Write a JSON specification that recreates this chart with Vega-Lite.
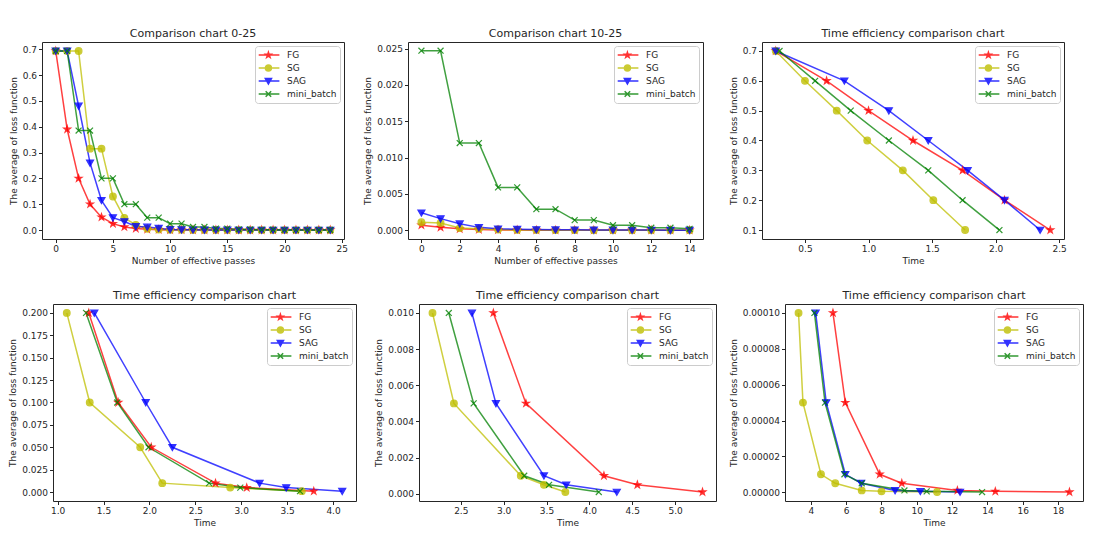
{
  "$schema": "https://vega.github.io/schema/vega-lite/v6.json",
  "padding": {"left": 8, "top": 27, "right": 5, "bottom": 5},
  "config": {
    "font": "DejaVu Sans",
    "view": {"stroke": "#262626", "strokeWidth": 1},
    "axis": {"grid": false, "domain": false, "tickColor": "#262626", "tickSize": 3.5, "labelFontSize": 9, "labelColor": "#262626", "labelPadding": 2, "titleFontSize": 9, "titleFontWeight": "normal", "titleColor": "#262626", "labelFont": "DejaVu Sans", "titleFont": "DejaVu Sans", "labelFlush": false, "labelOverlap": false, "labelBound": false},
    "axisY": {"titlePadding": 4},
    "axisX": {"titlePadding": 3},
    "title": {"fontSize": 11, "fontWeight": "normal", "color": "#262626", "offset": 3, "font": "DejaVu Sans"},
    "legend": {"orient": "top-right", "offset": 4, "title": null, "padding": 3, "symbolSize": 100, "labelOffset": 17, "rowPadding": 1, "labelFont": "DejaVu Sans", "labelFontSize": 9, "labelColor": "#262626", "strokeColor": "#cccccc", "fillColor": "rgba(255,255,255,0.8)", "cornerRadius": 3, "symbolStrokeWidth": 1.5, "symbolOpacity": 0.8}
  },
  "datasets": {
    "p1": [
      {"s":"FG","x":0,"y":0.693},{"s":"FG","x":1,"y":0.39},{"s":"FG","x":2,"y":0.2},{"s":"FG","x":3,"y":0.1},{"s":"FG","x":4,"y":0.05},{"s":"FG","x":5,"y":0.025},{"s":"FG","x":6,"y":0.012},{"s":"FG","x":7,"y":0.006},{"s":"FG","x":8,"y":0.003},{"s":"FG","x":9,"y":0.0015},{"s":"FG","x":10,"y":0.0007},{"s":"FG","x":11,"y":0.0004},{"s":"FG","x":12,"y":0.0002},{"s":"FG","x":13,"y":0.0001},{"s":"FG","x":14,"y":0.00005},{"s":"FG","x":15,"y":0.00003},{"s":"FG","x":16,"y":0.00002},{"s":"FG","x":17,"y":0.00001},{"s":"FG","x":18,"y":0.00001},{"s":"FG","x":19,"y":0.00001},{"s":"FG","x":20,"y":0.00001},{"s":"FG","x":21,"y":0.00001},{"s":"FG","x":22,"y":0.00001},{"s":"FG","x":23,"y":0.00001},{"s":"FG","x":24,"y":0.00001},
      {"s":"SG","x":0,"y":0.693},{"s":"SG","x":1,"y":0.693},{"s":"SG","x":2,"y":0.693},{"s":"SG","x":3,"y":0.315},{"s":"SG","x":4,"y":0.315},{"s":"SG","x":5,"y":0.13},{"s":"SG","x":6,"y":0.047},{"s":"SG","x":7,"y":0.02},{"s":"SG","x":8,"y":0.005},{"s":"SG","x":9,"y":0.002},{"s":"SG","x":10,"y":0.0011},{"s":"SG","x":11,"y":0.001},{"s":"SG","x":12,"y":0.0003},{"s":"SG","x":13,"y":0.0002},{"s":"SG","x":14,"y":0.0001},{"s":"SG","x":15,"y":0.00005},{"s":"SG","x":16,"y":0.00003},{"s":"SG","x":17,"y":0.00002},{"s":"SG","x":18,"y":0.00002},{"s":"SG","x":19,"y":0.00001},{"s":"SG","x":20,"y":0.00001},{"s":"SG","x":21,"y":0.00001},{"s":"SG","x":22,"y":0.00001},{"s":"SG","x":23,"y":0.00001},{"s":"SG","x":24,"y":0.00001},
      {"s":"SAG","x":0,"y":0.693},{"s":"SAG","x":1,"y":0.693},{"s":"SAG","x":2,"y":0.48},{"s":"SAG","x":3,"y":0.26},{"s":"SAG","x":4,"y":0.115},{"s":"SAG","x":5,"y":0.048},{"s":"SAG","x":6,"y":0.033},{"s":"SAG","x":7,"y":0.014},{"s":"SAG","x":8,"y":0.012},{"s":"SAG","x":9,"y":0.007},{"s":"SAG","x":10,"y":0.0024},{"s":"SAG","x":11,"y":0.0016},{"s":"SAG","x":12,"y":0.0009},{"s":"SAG","x":13,"y":0.0004},{"s":"SAG","x":14,"y":0.0002},{"s":"SAG","x":15,"y":0.00015},{"s":"SAG","x":16,"y":0.0001},{"s":"SAG","x":17,"y":0.00008},{"s":"SAG","x":18,"y":0.00006},{"s":"SAG","x":19,"y":0.00005},{"s":"SAG","x":20,"y":0.00004},{"s":"SAG","x":21,"y":0.00003},{"s":"SAG","x":22,"y":0.00003},{"s":"SAG","x":23,"y":0.00002},{"s":"SAG","x":24,"y":0.00002},
      {"s":"mini_batch","x":0,"y":0.693},{"s":"mini_batch","x":1,"y":0.693},{"s":"mini_batch","x":2,"y":0.385},{"s":"mini_batch","x":3,"y":0.385},{"s":"mini_batch","x":4,"y":0.2},{"s":"mini_batch","x":5,"y":0.2},{"s":"mini_batch","x":6,"y":0.1},{"s":"mini_batch","x":7,"y":0.1},{"s":"mini_batch","x":8,"y":0.048},{"s":"mini_batch","x":9,"y":0.048},{"s":"mini_batch","x":10,"y":0.0247},{"s":"mini_batch","x":11,"y":0.0247},{"s":"mini_batch","x":12,"y":0.012},{"s":"mini_batch","x":13,"y":0.012},{"s":"mini_batch","x":14,"y":0.0059},{"s":"mini_batch","x":15,"y":0.0059},{"s":"mini_batch","x":16,"y":0.0029},{"s":"mini_batch","x":17,"y":0.0029},{"s":"mini_batch","x":18,"y":0.0014},{"s":"mini_batch","x":19,"y":0.0014},{"s":"mini_batch","x":20,"y":0.0007},{"s":"mini_batch","x":21,"y":0.0007},{"s":"mini_batch","x":22,"y":0.00035},{"s":"mini_batch","x":23,"y":0.00035},{"s":"mini_batch","x":24,"y":0.0002}
    ],
    "p2": [
      {"s":"FG","x":0,"y":0.0007},{"s":"FG","x":1,"y":0.0004},{"s":"FG","x":2,"y":0.0002},{"s":"FG","x":3,"y":0.0001},{"s":"FG","x":4,"y":0.00005},{"s":"FG","x":5,"y":0.00003},{"s":"FG","x":6,"y":0.00002},{"s":"FG","x":7,"y":0.00001},{"s":"FG","x":8,"y":0.00001},{"s":"FG","x":9,"y":0.00001},{"s":"FG","x":10,"y":0.00001},{"s":"FG","x":11,"y":0.00001},{"s":"FG","x":12,"y":0.00001},{"s":"FG","x":13,"y":0.00001},{"s":"FG","x":14,"y":0.00001},
      {"s":"SG","x":0,"y":0.0011},{"s":"SG","x":1,"y":0.001},{"s":"SG","x":2,"y":0.0003},{"s":"SG","x":3,"y":0.0002},{"s":"SG","x":4,"y":0.0001},{"s":"SG","x":5,"y":0.00005},{"s":"SG","x":6,"y":0.00003},{"s":"SG","x":7,"y":0.00002},{"s":"SG","x":8,"y":0.00002},{"s":"SG","x":9,"y":0.00001},{"s":"SG","x":10,"y":0.00001},{"s":"SG","x":11,"y":0.00001},{"s":"SG","x":12,"y":0.00001},{"s":"SG","x":13,"y":0.00001},{"s":"SG","x":14,"y":0.00001},
      {"s":"SAG","x":0,"y":0.0024},{"s":"SAG","x":1,"y":0.0016},{"s":"SAG","x":2,"y":0.0009},{"s":"SAG","x":3,"y":0.0004},{"s":"SAG","x":4,"y":0.0002},{"s":"SAG","x":5,"y":0.00015},{"s":"SAG","x":6,"y":0.0001},{"s":"SAG","x":7,"y":0.00008},{"s":"SAG","x":8,"y":0.00006},{"s":"SAG","x":9,"y":0.00005},{"s":"SAG","x":10,"y":0.00004},{"s":"SAG","x":11,"y":0.00003},{"s":"SAG","x":12,"y":0.00003},{"s":"SAG","x":13,"y":0.00002},{"s":"SAG","x":14,"y":0.00002},
      {"s":"mini_batch","x":0,"y":0.0247},{"s":"mini_batch","x":1,"y":0.0247},{"s":"mini_batch","x":2,"y":0.012},{"s":"mini_batch","x":3,"y":0.012},{"s":"mini_batch","x":4,"y":0.0059},{"s":"mini_batch","x":5,"y":0.0059},{"s":"mini_batch","x":6,"y":0.0029},{"s":"mini_batch","x":7,"y":0.0029},{"s":"mini_batch","x":8,"y":0.0014},{"s":"mini_batch","x":9,"y":0.0014},{"s":"mini_batch","x":10,"y":0.0007},{"s":"mini_batch","x":11,"y":0.0007},{"s":"mini_batch","x":12,"y":0.00035},{"s":"mini_batch","x":13,"y":0.00035},{"s":"mini_batch","x":14,"y":0.0002}
    ],
    "p3": [
      {"s":"FG","x":0.27,"y":0.7},{"s":"FG","x":0.67,"y":0.6},{"s":"FG","x":1.0,"y":0.5},{"s":"FG","x":1.35,"y":0.4},{"s":"FG","x":1.74,"y":0.3},{"s":"FG","x":2.07,"y":0.2},{"s":"FG","x":2.43,"y":0.1},
      {"s":"SG","x":0.27,"y":0.7},{"s":"SG","x":0.5,"y":0.6},{"s":"SG","x":0.75,"y":0.5},{"s":"SG","x":0.99,"y":0.4},{"s":"SG","x":1.27,"y":0.3},{"s":"SG","x":1.51,"y":0.2},{"s":"SG","x":1.76,"y":0.1},
      {"s":"SAG","x":0.27,"y":0.7},{"s":"SAG","x":0.81,"y":0.6},{"s":"SAG","x":1.16,"y":0.5},{"s":"SAG","x":1.47,"y":0.4},{"s":"SAG","x":1.78,"y":0.3},{"s":"SAG","x":2.07,"y":0.2},{"s":"SAG","x":2.35,"y":0.1},
      {"s":"mini_batch","x":0.3,"y":0.7},{"s":"mini_batch","x":0.58,"y":0.6},{"s":"mini_batch","x":0.86,"y":0.5},{"s":"mini_batch","x":1.16,"y":0.4},{"s":"mini_batch","x":1.47,"y":0.3},{"s":"mini_batch","x":1.74,"y":0.2},{"s":"mini_batch","x":2.03,"y":0.1}
    ],
    "p4": [
      {"s":"FG","x":1.34,"y":0.2},{"s":"FG","x":1.66,"y":0.1},{"s":"FG","x":2.02,"y":0.05},{"s":"FG","x":2.72,"y":0.01},{"s":"FG","x":3.06,"y":0.005},{"s":"FG","x":3.79,"y":0.001},
      {"s":"SG","x":1.1,"y":0.2},{"s":"SG","x":1.35,"y":0.1},{"s":"SG","x":1.9,"y":0.05},{"s":"SG","x":2.14,"y":0.01},{"s":"SG","x":2.88,"y":0.005},{"s":"SG","x":3.66,"y":0.001},
      {"s":"SAG","x":1.4,"y":0.2},{"s":"SAG","x":1.96,"y":0.1},{"s":"SAG","x":2.25,"y":0.05},{"s":"SAG","x":3.2,"y":0.01},{"s":"SAG","x":3.49,"y":0.005},{"s":"SAG","x":4.1,"y":0.001},
      {"s":"mini_batch","x":1.31,"y":0.2},{"s":"mini_batch","x":1.65,"y":0.1},{"s":"mini_batch","x":1.99,"y":0.05},{"s":"mini_batch","x":2.65,"y":0.01},{"s":"mini_batch","x":2.99,"y":0.005},{"s":"mini_batch","x":3.64,"y":0.001}
    ],
    "p5": [
      {"s":"FG","x":2.88,"y":0.01},{"s":"FG","x":3.26,"y":0.005},{"s":"FG","x":4.17,"y":0.001},{"s":"FG","x":4.56,"y":0.0005},{"s":"FG","x":5.32,"y":0.0001},
      {"s":"SG","x":2.17,"y":0.01},{"s":"SG","x":2.42,"y":0.005},{"s":"SG","x":3.2,"y":0.001},{"s":"SG","x":3.47,"y":0.0005},{"s":"SG","x":3.72,"y":0.0001},
      {"s":"SAG","x":2.63,"y":0.01},{"s":"SAG","x":2.91,"y":0.005},{"s":"SAG","x":3.47,"y":0.001},{"s":"SAG","x":3.73,"y":0.0005},{"s":"SAG","x":4.32,"y":0.0001},
      {"s":"mini_batch","x":2.36,"y":0.01},{"s":"mini_batch","x":2.65,"y":0.005},{"s":"mini_batch","x":3.24,"y":0.001},{"s":"mini_batch","x":3.53,"y":0.0005},{"s":"mini_batch","x":4.11,"y":0.0001}
    ],
    "p6": [
      {"s":"FG","x":5.25,"y":0.0001},{"s":"FG","x":5.95,"y":0.00005},{"s":"FG","x":7.9,"y":0.00001},{"s":"FG","x":9.15,"y":0.000005},{"s":"FG","x":12.3,"y":0.000001},{"s":"FG","x":14.45,"y":0.0000005},{"s":"FG","x":18.65,"y":0.0000001},
      {"s":"SG","x":3.3,"y":0.0001},{"s":"SG","x":3.55,"y":0.00005},{"s":"SG","x":4.57,"y":0.00001},{"s":"SG","x":5.38,"y":0.000005},{"s":"SG","x":6.88,"y":0.000001},{"s":"SG","x":8.0,"y":0.0000005},{"s":"SG","x":11.15,"y":0.0000001},
      {"s":"SAG","x":4.27,"y":0.0001},{"s":"SAG","x":4.87,"y":0.00005},{"s":"SAG","x":5.95,"y":0.00001},{"s":"SAG","x":6.85,"y":0.000005},{"s":"SAG","x":8.77,"y":0.000001},{"s":"SAG","x":10.2,"y":0.0000005},{"s":"SAG","x":12.45,"y":0.0000001},
      {"s":"mini_batch","x":4.2,"y":0.0001},{"s":"mini_batch","x":4.8,"y":0.00005},{"s":"mini_batch","x":5.9,"y":0.00001},{"s":"mini_batch","x":6.88,"y":0.000005},{"s":"mini_batch","x":9.3,"y":0.000001},{"s":"mini_batch","x":10.56,"y":0.0000005},{"s":"mini_batch","x":13.7,"y":0.0000001}
    ]
  },
  "resolve": {"scale": {"color": "independent", "shape": "independent", "stroke": "independent"}, "legend": {"color": "independent", "shape": "independent", "stroke": "independent"}},
  "spacing": 23,
  "columns": 1,
  "concat": [
    {
      "resolve": {"scale": {"color": "independent", "shape": "independent", "stroke": "independent"}, "legend": {"color": "independent", "shape": "independent", "stroke": "independent"}},
      "spacing": 24,
      "hconcat": [
        {
          "resolve": {"scale": {"color": "independent", "shape": "independent", "stroke": "independent"}, "legend": {"color": "independent", "shape": "independent", "stroke": "independent"}},
          "spacing": 15,
          "hconcat": [
            {
              "title": "Comparison chart 0-25",
              "width": 302, "height": 197,
              "data": {"name": "p1"},
              "encoding": {
                "x": {"field": "x", "type": "quantitative", "scale": {"domain": [-1.2, 25.2], "nice": false, "zero": false}, "axis": {"title": "Number of effective passes", "values": [0,5,10,15,20,25], "format": "d"}},
                "y": {"field": "y", "type": "quantitative", "scale": {"domain": [-0.0346, 0.7277], "nice": false, "zero": false}, "axis": {"title": "The average of loss function", "values": [0,0.1,0.2,0.3,0.4,0.5,0.6,0.7], "format": ".1f"}},
                "color": {"field": "s", "type": "nominal", "scale": {"domain": ["FG","SG","SAG","mini_batch"], "range": ["#ff0000","#bfbf00","#0000ff","#008000"]}, "legend": {}}
              },
              "layer": [
                {"mark": {"type": "point", "filled": true, "size": 0, "strokeWidth": 1.5},
                 "encoding": {
                   "shape": {"field": "s", "type": "nominal", "scale": {"domain": ["FG","SG","SAG","mini_batch"], "range": ["M-1.06,0L3.08,0M0.88,-0.55L1.004,-0.17L1.403,-0.17L1.08,0.065L1.203,0.445L0.88,0.21L0.557,0.445L0.68,0.065L0.357,-0.17L0.756,-0.17Z","M-1.06,0L3.08,0M0.28,0A0.6,0.6 0 1,0 1.48,0A0.6,0.6 0 1,0 0.28,0Z","M-1.06,0L3.08,0M0.26,-0.5L1.5,-0.5L0.88,0.6Z","M-1.06,0L3.08,0M0.33,-0.55L1.43,0.55M0.33,0.55L1.43,-0.55"]}, "legend": null},
                   "stroke": {"field": "s", "type": "nominal", "scale": {"domain": ["FG","SG","SAG","mini_batch"], "range": ["#ff0000","#bfbf00","#0000ff","#008000"]}, "legend": null}
                 }},
                {"mark": {"type": "line", "strokeWidth": 1.5, "opacity": 0.75}},
                {"mark": {"type": "point", "filled": true, "size": 49, "opacity": 0.8, "strokeWidth": 1.2,
                  "shape": {"expr": "datum.s==='FG'?'M0,-1L0.225,-0.309L0.951,-0.309L0.363,0.118L0.588,0.809L0,0.382L-0.588,0.809L-0.363,0.118L-0.951,-0.309L-0.225,-0.309Z':datum.s==='SG'?'M-0.95,0A0.95,0.95 0 1,0 0.95,0A0.95,0.95 0 1,0 -0.95,0Z':datum.s==='SAG'?'M-1,-0.8L1,-0.8L0,0.95Z':'M-0.85,-0.85L0.85,0.85M-0.85,0.85L0.85,-0.85'"},
                  "stroke": {"expr": "datum.s==='FG'?'#ff0000':datum.s==='SG'?'#bfbf00':datum.s==='SAG'?'#0000ff':'#008000'"}}}
              ]
            },
            {
              "title": "Comparison chart 10-25",
              "width": 295, "height": 197,
              "data": {"name": "p2"},
              "encoding": {
                "x": {"field": "x", "type": "quantitative", "scale": {"domain": [-0.7, 14.7], "nice": false, "zero": false}, "axis": {"title": "Number of effective passes", "values": [0,2,4,6,8,10,12,14], "format": "d"}},
                "y": {"field": "y", "type": "quantitative", "scale": {"domain": [-0.0012, 0.0259], "nice": false, "zero": false}, "axis": {"title": "The average of loss function", "values": [0,0.005,0.01,0.015,0.02,0.025], "format": ".3f"}},
                "color": {"field": "s", "type": "nominal", "scale": {"domain": ["FG","SG","SAG","mini_batch"], "range": ["#ff0000","#bfbf00","#0000ff","#008000"]}, "legend": {}}
              },
              "layer": [
                {"mark": {"type": "point", "filled": true, "size": 0, "strokeWidth": 1.5},
                 "encoding": {
                   "shape": {"field": "s", "type": "nominal", "scale": {"domain": ["FG","SG","SAG","mini_batch"], "range": ["M-1.06,0L3.08,0M0.88,-0.55L1.004,-0.17L1.403,-0.17L1.08,0.065L1.203,0.445L0.88,0.21L0.557,0.445L0.68,0.065L0.357,-0.17L0.756,-0.17Z","M-1.06,0L3.08,0M0.28,0A0.6,0.6 0 1,0 1.48,0A0.6,0.6 0 1,0 0.28,0Z","M-1.06,0L3.08,0M0.26,-0.5L1.5,-0.5L0.88,0.6Z","M-1.06,0L3.08,0M0.33,-0.55L1.43,0.55M0.33,0.55L1.43,-0.55"]}, "legend": null},
                   "stroke": {"field": "s", "type": "nominal", "scale": {"domain": ["FG","SG","SAG","mini_batch"], "range": ["#ff0000","#bfbf00","#0000ff","#008000"]}, "legend": null}
                 }},
                {"mark": {"type": "line", "strokeWidth": 1.5, "opacity": 0.75}},
                {"mark": {"type": "point", "filled": true, "size": 49, "opacity": 0.8, "strokeWidth": 1.2,
                  "shape": {"expr": "datum.s==='FG'?'M0,-1L0.225,-0.309L0.951,-0.309L0.363,0.118L0.588,0.809L0,0.382L-0.588,0.809L-0.363,0.118L-0.951,-0.309L-0.225,-0.309Z':datum.s==='SG'?'M-0.95,0A0.95,0.95 0 1,0 0.95,0A0.95,0.95 0 1,0 -0.95,0Z':datum.s==='SAG'?'M-1,-0.8L1,-0.8L0,0.95Z':'M-0.85,-0.85L0.85,0.85M-0.85,0.85L0.85,-0.85'"},
                  "stroke": {"expr": "datum.s==='FG'?'#ff0000':datum.s==='SG'?'#bfbf00':datum.s==='SAG'?'#0000ff':'#008000'"}}}
              ]
            }
          ]
        },
        {
          "title": "Time efficiency comparison chart",
          "width": 302, "height": 197,
          "data": {"name": "p3"},
          "encoding": {
            "x": {"field": "x", "type": "quantitative", "scale": {"domain": [0.162, 2.538], "nice": false, "zero": false}, "axis": {"title": "Time", "values": [0.5,1.0,1.5,2.0,2.5], "format": ".1f"}},
            "y": {"field": "y", "type": "quantitative", "scale": {"domain": [0.07, 0.73], "nice": false, "zero": false}, "axis": {"title": "The average of loss function", "values": [0.1,0.2,0.3,0.4,0.5,0.6,0.7], "format": ".1f"}},
            "color": {"field": "s", "type": "nominal", "scale": {"domain": ["FG","SG","SAG","mini_batch"], "range": ["#ff0000","#bfbf00","#0000ff","#008000"]}, "legend": {}}
          },
          "layer": [
            {"mark": {"type": "point", "filled": true, "size": 0, "strokeWidth": 1.5},
             "encoding": {
               "shape": {"field": "s", "type": "nominal", "scale": {"domain": ["FG","SG","SAG","mini_batch"], "range": ["M-1.06,0L3.08,0M0.88,-0.55L1.004,-0.17L1.403,-0.17L1.08,0.065L1.203,0.445L0.88,0.21L0.557,0.445L0.68,0.065L0.357,-0.17L0.756,-0.17Z","M-1.06,0L3.08,0M0.28,0A0.6,0.6 0 1,0 1.48,0A0.6,0.6 0 1,0 0.28,0Z","M-1.06,0L3.08,0M0.26,-0.5L1.5,-0.5L0.88,0.6Z","M-1.06,0L3.08,0M0.33,-0.55L1.43,0.55M0.33,0.55L1.43,-0.55"]}, "legend": null},
               "stroke": {"field": "s", "type": "nominal", "scale": {"domain": ["FG","SG","SAG","mini_batch"], "range": ["#ff0000","#bfbf00","#0000ff","#008000"]}, "legend": null}
             }},
            {"mark": {"type": "line", "strokeWidth": 1.5, "opacity": 0.75}},
            {"mark": {"type": "point", "filled": true, "size": 49, "opacity": 0.8, "strokeWidth": 1.2,
              "shape": {"expr": "datum.s==='FG'?'M0,-1L0.225,-0.309L0.951,-0.309L0.363,0.118L0.588,0.809L0,0.382L-0.588,0.809L-0.363,0.118L-0.951,-0.309L-0.225,-0.309Z':datum.s==='SG'?'M-0.95,0A0.95,0.95 0 1,0 0.95,0A0.95,0.95 0 1,0 -0.95,0Z':datum.s==='SAG'?'M-1,-0.8L1,-0.8L0,0.95Z':'M-0.85,-0.85L0.85,0.85M-0.85,0.85L0.85,-0.85'"},
              "stroke": {"expr": "datum.s==='FG'?'#ff0000':datum.s==='SG'?'#bfbf00':datum.s==='SAG'?'#0000ff':'#008000'"}}}
          ]
        }
      ]
    },
    {
      "resolve": {"scale": {"color": "independent", "shape": "independent", "stroke": "independent"}, "legend": {"color": "independent", "shape": "independent", "stroke": "independent"}},
      "bounds": "flush",
      "spacing": 0,
      "hconcat": [
        {"width": 11, "height": 10, "view": {"stroke": null}, "data": {"values": []}, "mark": {"type": "point", "opacity": 0}, "encoding": {}},
        {
          "resolve": {"scale": {"color": "independent", "shape": "independent", "stroke": "independent"}, "legend": {"color": "independent", "shape": "independent", "stroke": "independent"}},
          "spacing": 11,
          "hconcat": [
            {
              "resolve": {"scale": {"color": "independent", "shape": "independent", "stroke": "independent"}, "legend": {"color": "independent", "shape": "independent", "stroke": "independent"}},
              "spacing": 17,
              "hconcat": [
                {
                  "title": "Time efficiency comparison chart",
                  "width": 303, "height": 197,
                  "data": {"name": "p4"},
                  "encoding": {
                    "x": {"field": "x", "type": "quantitative", "scale": {"domain": [0.95, 4.25], "nice": false, "zero": false}, "axis": {"title": "Time", "values": [1.0,1.5,2.0,2.5,3.0,3.5,4.0], "format": ".1f"}},
                    "y": {"field": "y", "type": "quantitative", "scale": {"domain": [-0.00995, 0.20995], "nice": false, "zero": false}, "axis": {"title": "The average of loss function", "values": [0,0.025,0.05,0.075,0.1,0.125,0.15,0.175,0.2], "format": ".3f"}},
                    "color": {"field": "s", "type": "nominal", "scale": {"domain": ["FG","SG","SAG","mini_batch"], "range": ["#ff0000","#bfbf00","#0000ff","#008000"]}, "legend": {}}
                  },
                  "layer": [
                    {"mark": {"type": "point", "filled": true, "size": 0, "strokeWidth": 1.5},
                     "encoding": {
                       "shape": {"field": "s", "type": "nominal", "scale": {"domain": ["FG","SG","SAG","mini_batch"], "range": ["M-1.06,0L3.08,0M0.88,-0.55L1.004,-0.17L1.403,-0.17L1.08,0.065L1.203,0.445L0.88,0.21L0.557,0.445L0.68,0.065L0.357,-0.17L0.756,-0.17Z","M-1.06,0L3.08,0M0.28,0A0.6,0.6 0 1,0 1.48,0A0.6,0.6 0 1,0 0.28,0Z","M-1.06,0L3.08,0M0.26,-0.5L1.5,-0.5L0.88,0.6Z","M-1.06,0L3.08,0M0.33,-0.55L1.43,0.55M0.33,0.55L1.43,-0.55"]}, "legend": null},
                       "stroke": {"field": "s", "type": "nominal", "scale": {"domain": ["FG","SG","SAG","mini_batch"], "range": ["#ff0000","#bfbf00","#0000ff","#008000"]}, "legend": null}
                     }},
                    {"mark": {"type": "line", "strokeWidth": 1.5, "opacity": 0.75}},
                    {"mark": {"type": "point", "filled": true, "size": 49, "opacity": 0.8, "strokeWidth": 1.2,
                      "shape": {"expr": "datum.s==='FG'?'M0,-1L0.225,-0.309L0.951,-0.309L0.363,0.118L0.588,0.809L0,0.382L-0.588,0.809L-0.363,0.118L-0.951,-0.309L-0.225,-0.309Z':datum.s==='SG'?'M-0.95,0A0.95,0.95 0 1,0 0.95,0A0.95,0.95 0 1,0 -0.95,0Z':datum.s==='SAG'?'M-1,-0.8L1,-0.8L0,0.95Z':'M-0.85,-0.85L0.85,0.85M-0.85,0.85L0.85,-0.85'"},
                      "stroke": {"expr": "datum.s==='FG'?'#ff0000':datum.s==='SG'?'#bfbf00':datum.s==='SAG'?'#0000ff':'#008000'"}}}
                  ]
                },
                {
                  "title": "Time efficiency comparison chart",
                  "width": 297, "height": 197,
                  "data": {"name": "p5"},
                  "encoding": {
                    "x": {"field": "x", "type": "quantitative", "scale": {"domain": [2.0125, 5.4775], "nice": false, "zero": false}, "axis": {"title": "Time", "values": [2.5,3.0,3.5,4.0,4.5,5.0], "format": ".1f"}},
                    "y": {"field": "y", "type": "quantitative", "scale": {"domain": [-0.000395, 0.010495], "nice": false, "zero": false}, "axis": {"title": "The average of loss function", "values": [0,0.002,0.004,0.006,0.008,0.01], "format": ".3f"}},
                    "color": {"field": "s", "type": "nominal", "scale": {"domain": ["FG","SG","SAG","mini_batch"], "range": ["#ff0000","#bfbf00","#0000ff","#008000"]}, "legend": {}}
                  },
                  "layer": [
                    {"mark": {"type": "point", "filled": true, "size": 0, "strokeWidth": 1.5},
                     "encoding": {
                       "shape": {"field": "s", "type": "nominal", "scale": {"domain": ["FG","SG","SAG","mini_batch"], "range": ["M-1.06,0L3.08,0M0.88,-0.55L1.004,-0.17L1.403,-0.17L1.08,0.065L1.203,0.445L0.88,0.21L0.557,0.445L0.68,0.065L0.357,-0.17L0.756,-0.17Z","M-1.06,0L3.08,0M0.28,0A0.6,0.6 0 1,0 1.48,0A0.6,0.6 0 1,0 0.28,0Z","M-1.06,0L3.08,0M0.26,-0.5L1.5,-0.5L0.88,0.6Z","M-1.06,0L3.08,0M0.33,-0.55L1.43,0.55M0.33,0.55L1.43,-0.55"]}, "legend": null},
                       "stroke": {"field": "s", "type": "nominal", "scale": {"domain": ["FG","SG","SAG","mini_batch"], "range": ["#ff0000","#bfbf00","#0000ff","#008000"]}, "legend": null}
                     }},
                    {"mark": {"type": "line", "strokeWidth": 1.5, "opacity": 0.75}},
                    {"mark": {"type": "point", "filled": true, "size": 49, "opacity": 0.8, "strokeWidth": 1.2,
                      "shape": {"expr": "datum.s==='FG'?'M0,-1L0.225,-0.309L0.951,-0.309L0.363,0.118L0.588,0.809L0,0.382L-0.588,0.809L-0.363,0.118L-0.951,-0.309L-0.225,-0.309Z':datum.s==='SG'?'M-0.95,0A0.95,0.95 0 1,0 0.95,0A0.95,0.95 0 1,0 -0.95,0Z':datum.s==='SAG'?'M-1,-0.8L1,-0.8L0,0.95Z':'M-0.85,-0.85L0.85,0.85M-0.85,0.85L0.85,-0.85'"},
                      "stroke": {"expr": "datum.s==='FG'?'#ff0000':datum.s==='SG'?'#bfbf00':datum.s==='SAG'?'#0000ff':'#008000'"}}}
                  ]
                }
              ]
            },
            {
              "title": "Time efficiency comparison chart",
              "width": 298, "height": 197,
              "data": {"name": "p6"},
              "encoding": {
                "x": {"field": "x", "type": "quantitative", "scale": {"domain": [2.5325, 19.4175], "nice": false, "zero": false}, "axis": {"title": "Time", "values": [4,6,8,10,12,14,16,18], "format": "d"}},
                "y": {"field": "y", "type": "quantitative", "scale": {"domain": [-0.000004895, 0.000104995], "nice": false, "zero": false}, "axis": {"title": "The average of loss function", "values": [0,0.00002,0.00004,0.00006,0.00008,0.0001], "format": ".5f"}},
                "color": {"field": "s", "type": "nominal", "scale": {"domain": ["FG","SG","SAG","mini_batch"], "range": ["#ff0000","#bfbf00","#0000ff","#008000"]}, "legend": {}}
              },
              "layer": [
                {"mark": {"type": "point", "filled": true, "size": 0, "strokeWidth": 1.5},
                 "encoding": {
                   "shape": {"field": "s", "type": "nominal", "scale": {"domain": ["FG","SG","SAG","mini_batch"], "range": ["M-1.06,0L3.08,0M0.88,-0.55L1.004,-0.17L1.403,-0.17L1.08,0.065L1.203,0.445L0.88,0.21L0.557,0.445L0.68,0.065L0.357,-0.17L0.756,-0.17Z","M-1.06,0L3.08,0M0.28,0A0.6,0.6 0 1,0 1.48,0A0.6,0.6 0 1,0 0.28,0Z","M-1.06,0L3.08,0M0.26,-0.5L1.5,-0.5L0.88,0.6Z","M-1.06,0L3.08,0M0.33,-0.55L1.43,0.55M0.33,0.55L1.43,-0.55"]}, "legend": null},
                   "stroke": {"field": "s", "type": "nominal", "scale": {"domain": ["FG","SG","SAG","mini_batch"], "range": ["#ff0000","#bfbf00","#0000ff","#008000"]}, "legend": null}
                 }},
                {"mark": {"type": "line", "strokeWidth": 1.5, "opacity": 0.75}},
                {"mark": {"type": "point", "filled": true, "size": 49, "opacity": 0.8, "strokeWidth": 1.2,
                  "shape": {"expr": "datum.s==='FG'?'M0,-1L0.225,-0.309L0.951,-0.309L0.363,0.118L0.588,0.809L0,0.382L-0.588,0.809L-0.363,0.118L-0.951,-0.309L-0.225,-0.309Z':datum.s==='SG'?'M-0.95,0A0.95,0.95 0 1,0 0.95,0A0.95,0.95 0 1,0 -0.95,0Z':datum.s==='SAG'?'M-1,-0.8L1,-0.8L0,0.95Z':'M-0.85,-0.85L0.85,0.85M-0.85,0.85L0.85,-0.85'"},
                  "stroke": {"expr": "datum.s==='FG'?'#ff0000':datum.s==='SG'?'#bfbf00':datum.s==='SAG'?'#0000ff':'#008000'"}}}
              ]
            }
          ]
        }
      ]
    }
  ]
}
